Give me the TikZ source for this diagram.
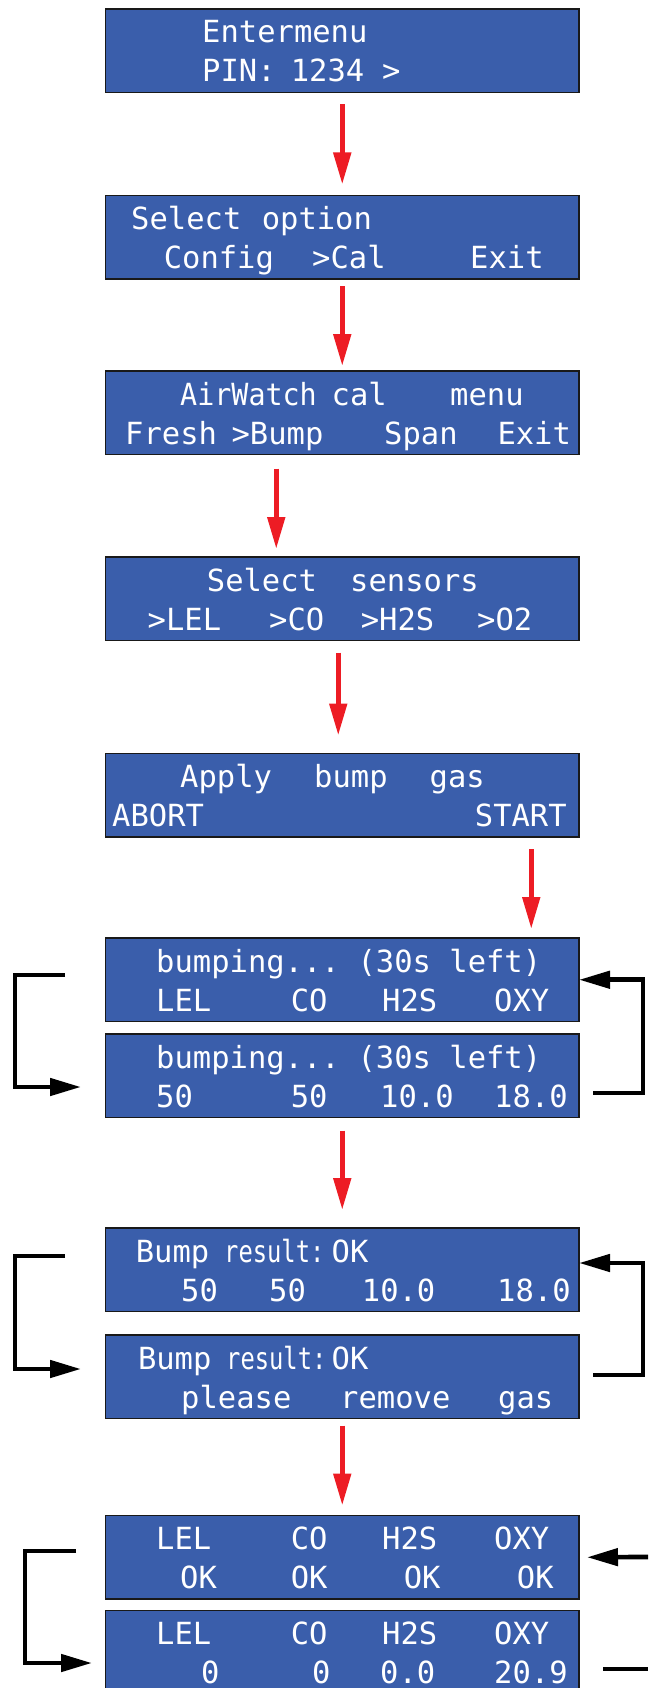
\documentclass[tikz,border=0pt]{standalone}
\usepackage{fontspec}
\newfontfamily\lcdfont{DejaVu Sans Mono}
\usetikzlibrary{arrows.meta,calc}
\definecolor{lcdblue}{RGB}{58,94,171}
\definecolor{arrred}{RGB}{237,28,36}
\newcommand\lw[4]{\node[txt] (#1) at (#2,#3) {#4};}
\begin{document}
\begin{tikzpicture}[x=1pt,y=-1pt,
 lcd/.style={draw=black!90,line width=1.3pt,fill=lcdblue,minimum width=473.5pt,minimum height=83.5pt,anchor=north west,inner sep=0pt,outer sep=0pt},
 txt/.style={anchor=base west,inner sep=0pt,text=white,font=\lcdfont\fontsize{30.5}{36}\selectfont},
 redarr/.style={draw=arrred,line width=5pt,-{Triangle[length=32pt,width=17pt]}},
 blkarr/.style={draw=black,line width=4.7pt,-{Triangle[length=31pt,width=17pt]}},
 blkline/.style={draw=black,line width=4.7pt},
]
\useasboundingbox (0,0) rectangle (648,1688);
\clip (0,0) rectangle (648,1688);
\node[lcd] (b1) at (105.5,9) {};
\node[lcd] (b2) at (105.5,195.5) {};
\node[lcd] (b3) at (105.5,371) {};
\node[lcd] (b4) at (105.5,557) {};
\node[lcd] (b5) at (105.5,753.5) {};
\node[lcd] (b6) at (105.5,938) {};
\node[lcd] (b7) at (105.5,1034) {};
\node[lcd] (b8) at (105.5,1228) {};
\node[lcd] (b9) at (105.5,1335) {};
\node[lcd] (b10) at (105.5,1515.5) {};
\node[lcd] (b11) at (105.5,1610.5) {};
% box 1
\lw{t1a}{202}{43}{Entermenu}
\lw{t1b}{202}{82}{PIN:}
\lw{t1c}{290.6}{82}{1234}
\lw{t1d}{382}{82}{>}
% box 2
\lw{t2a}{131}{229.5}{Select}
\lw{t2b}{261.6}{229.5}{option}
\lw{t2c}{163.6}{268.5}{Config}
\lw{t2d}{312}{268.5}{>Cal}
\lw{t2e}{470}{268.5}{Exit}
% box 3
\lw{t3a}{180}{405}{\scalebox{0.93}[1]{AirWatch}}
\lw{t3b}{331.5}{405}{cal}
\lw{t3c}{450}{405}{menu}
\lw{t3d}{125}{444}{Fresh}
\lw{t3e}{231.4}{444}{>Bump}
\lw{t3f}{384}{444}{Span}
\lw{t3g}{497.3}{444}{Exit}
% box 4
\lw{t4a}{206.7}{591}{Select}
\lw{t4b}{350}{591}{sensors}
\lw{t4c}{147.5}{630}{>LEL}
\lw{t4d}{269}{630}{>CO}
\lw{t4e}{360.6}{630}{>H2S}
\lw{t4f}{477}{630}{>O2}
% box 5
\lw{t5a}{180}{787.5}{Apply}
\lw{t5b}{314}{787.5}{bump}
\lw{t5c}{429.5}{787.5}{gas}
\lw{t5d}{112}{826.5}{ABORT}
\lw{t5e}{474.7}{826.5}{START}
% box 6
\lw{t6a}{156}{972}{bumping...}
\lw{t6b}{357.4}{972}{(30s left)}
\lw{t6c}{156}{1011}{LEL}
\lw{t6d}{290.6}{1011}{CO}
\lw{t6e}{382}{1011}{H2S}
\lw{t6f}{494}{1011}{OXY}
% box 7
\lw{t7a}{156}{1068}{bumping...}
\lw{t7b}{357.4}{1068}{(30s left)}
\lw{t7c}{156}{1107}{50}
\lw{t7d}{290.6}{1107}{50}
\lw{t7e}{380}{1107}{10.0}
\lw{t7f}{494}{1107}{18.0}
% box 8
\lw{t8a}{135.6}{1262}{Bump}
\lw{t8b}{224}{1262}{\scalebox{0.78}[1]{result:}}
\lw{t8c}{331.5}{1262}{OK}
\lw{t8d}{181}{1301}{50}
\lw{t8e}{269}{1301}{50}
\lw{t8f}{361.7}{1301}{10.0}
\lw{t8g}{497}{1301}{18.0}
% box 9
\lw{t9a}{137.8}{1369}{Bump}
\lw{t9b}{226}{1369}{\scalebox{0.78}[1]{result:}}
\lw{t9c}{331.5}{1369}{OK}
\lw{t9d}{181}{1408}{please}
\lw{t9e}{340}{1408}{remove}
\lw{t9f}{498}{1408}{gas}
% box 10
\lw{t10a}{156}{1549.5}{LEL}
\lw{t10b}{290.6}{1549.5}{CO}
\lw{t10c}{382}{1549.5}{H2S}
\lw{t10d}{494}{1549.5}{OXY}
\lw{t10e}{180}{1588.5}{OK}
\lw{t10f}{290.6}{1588.5}{OK}
\lw{t10g}{403.6}{1588.5}{OK}
\lw{t10h}{516.7}{1588.5}{OK}
% box 11
\lw{t11a}{156}{1644.5}{LEL}
\lw{t11b}{290.6}{1644.5}{CO}
\lw{t11c}{382}{1644.5}{H2S}
\lw{t11d}{494}{1644.5}{OXY}
\lw{t11e}{201}{1683.5}{0}
\lw{t11f}{312}{1683.5}{0}
\lw{t11g}{380}{1683.5}{0.0}
\lw{t11h}{494}{1683.5}{20.9}
% red arrows
\draw[redarr,shorten <=12pt,shorten >=11pt] (b1.south) -- (b2.north);
\draw[redarr,shorten <=7pt,shorten >=5pt] (b2.south) -- (b3.north);
\draw[redarr,shorten <=14pt,shorten >=8pt] ([xshift=-66pt]b3.south) -- ([xshift=-66pt]b4.north);
\draw[redarr,shorten <=12pt,shorten >=18pt] ([xshift=-4pt]b4.south) -- ([xshift=-4pt]b5.north);
\draw[redarr,shorten <=12pt,shorten >=9pt] ([xshift=189pt]b5.south) -- ([xshift=189pt]b6.north);
\draw[redarr,shorten <=13pt,shorten >=18pt] (b7.south) -- (b8.north);
\draw[redarr,shorten <=7pt,shorten >=10pt] (b9.south) -- (b10.north);
% black loops
\coordinate (l1s) at (65,975);
\coordinate (l1e) at (81,1087);
\draw[blkarr] (l1s) -- ++(-50,0) |- (l1e);
\coordinate (r1s) at (593,1093);
\draw[blkarr] (r1s) -- ++(50,0) |- (b6.east);
\coordinate (l2s) at (65,1256);
\coordinate (l2e) at (81,1369);
\draw[blkarr] (l2s) -- ++(-50,0) |- (l2e);
\coordinate (r2s) at (593,1375);
\draw[blkarr] (r2s) -- ++(50,0) |- ([yshift=6.75pt]b8.east);
\coordinate (l3s) at (76,1551);
\coordinate (l3e) at (92,1663);
\draw[blkarr] (l3s) -- ++(-51,0) |- (l3e);
\coordinate (r3s) at (648,1557);
\draw[blkarr] (r3s) -- ([xshift=8pt]b10.east);
\coordinate (r3a) at (603,1669);
\coordinate (r3b) at (648,1669);
\draw[blkline] (r3a) -- (r3b);
\end{tikzpicture}
\end{document}
